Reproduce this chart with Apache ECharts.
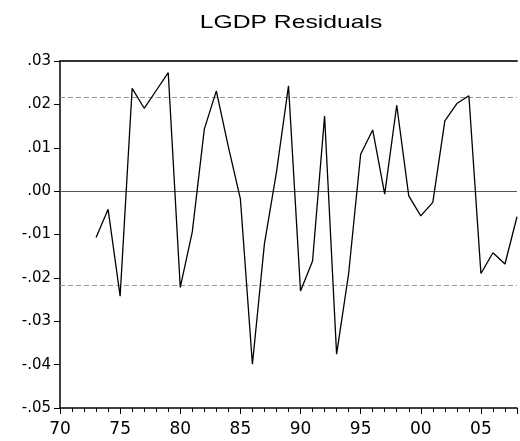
<!DOCTYPE html>
<html>
<head>
<meta charset="utf-8">
<script src="https://cdn.jsdelivr.net/npm/echarts@6/dist/echarts.min.js"></script>
<style>html,body{margin:0;padding:0;background:#fff}#c{width:520px;height:441px}</style>
</head>
<body>
<div id="c"></div>
<script>
const titleText = 'LGDP Residuals';
const years = [1973,1974,1975,1976,1977,1978,1979,1980,1981,1982,1983,1984,1985,1986,1987,1988,1989,1990,
  1991,1992,1993,1994,1995,1996,1997,1998,1999,2000,2001,2002,2003,2004,2005,2006,2007,2008];
const residuals = [-0.0107,-0.0042,-0.0242,0.0237,0.0191,0.0232,0.0273,-0.0222,-0.0094,0.0143,0.0231,0.0102,
  -0.0018,-0.0399,-0.0121,0.0044,0.0243,-0.0230,-0.0161,0.0173,-0.0376,-0.0190,0.0085,0.0141,-0.0007,0.0198,
  -0.0011,-0.0057,-0.0026,0.0162,0.0202,0.0220,-0.0190,-0.0142,-0.0168,-0.0059];
const bandValue = 0.0217;
const xRange = [1970, 2008];
const yRange = [-0.05, 0.03];

const chart = echarts.init(document.getElementById('c'), null, {renderer: 'canvas'});
const font = 'DejaVu Sans';
chart.setOption({
  animation: false,
  backgroundColor: '#fff',
  graphic: [{
    type: 'text', x: 291, y: 23, scaleX: 1.3,
    style: {text: titleText, font: '19px "Liberation Sans"', fill: '#000', align: 'center', verticalAlign: 'middle'}
  }],
  grid: {left: 60, top: 61, right: 0, bottom: 33},
  xAxis: [{
    type: 'value', min: xRange[0], max: xRange[1], interval: 5, position: 'bottom',
    axisLine: {show: true, onZero: false, lineStyle: {color: '#000', width: 1.5}},
    axisTick: {show: true, length: 6, inside: false, lineStyle: {color: '#000', width: 1}},
    axisLabel: {margin: 13, fontFamily: font, fontSize: 17, color: '#000',
      formatter: v => (v % 5 === 0 ? String(v % 100).padStart(2, '0') : '')},
    splitLine: {show: false}
  }, {
    type: 'value', min: xRange[0], max: xRange[1], interval: 1, position: 'bottom',
    axisLine: {show: false, onZero: false},
    axisTick: {show: true, length: 4, lineStyle: {color: '#000', width: 1}},
    axisLabel: {show: false}, splitLine: {show: false}
  }, {
    type: 'value', min: xRange[0], max: xRange[1], position: 'top',
    axisLine: {show: true, onZero: false, lineStyle: {color: '#333', width: 2}},
    axisTick: {show: false}, axisLabel: {show: false}, splitLine: {show: false}
  }],
  yAxis: {
    type: 'value', min: yRange[0], max: yRange[1], interval: 0.01,
    axisLine: {show: true, onZero: false, lineStyle: {color: '#000', width: 1.5}},
    axisTick: {show: true, length: 6, lineStyle: {color: '#000', width: 1}},
    axisLabel: {margin: 9, fontFamily: font, fontSize: 15, color: '#000',
      formatter: v => v.toFixed(2).replace('0.', '.')},
    splitLine: {show: false}
  },
  series: [{
    type: 'line',
    xAxisIndex: 0,
    data: years.map((y, i) => [y, residuals[i]]),
    symbol: 'none',
    lineStyle: {color: '#000', width: 1.3},
    z: 5,
    markLine: {
      silent: true, symbol: 'none', precision: 5, label: {show: false},
      data: [
        {yAxis: 0, lineStyle: {color: '#555', width: 1, type: 'solid'}},
        {yAxis: bandValue, lineStyle: {color: '#999', width: 1, type: [5, 3]}},
        {yAxis: -bandValue, lineStyle: {color: '#999', width: 1, type: [5, 3]}}
      ]
    }
  }]
});
</script>
</body>
</html>
